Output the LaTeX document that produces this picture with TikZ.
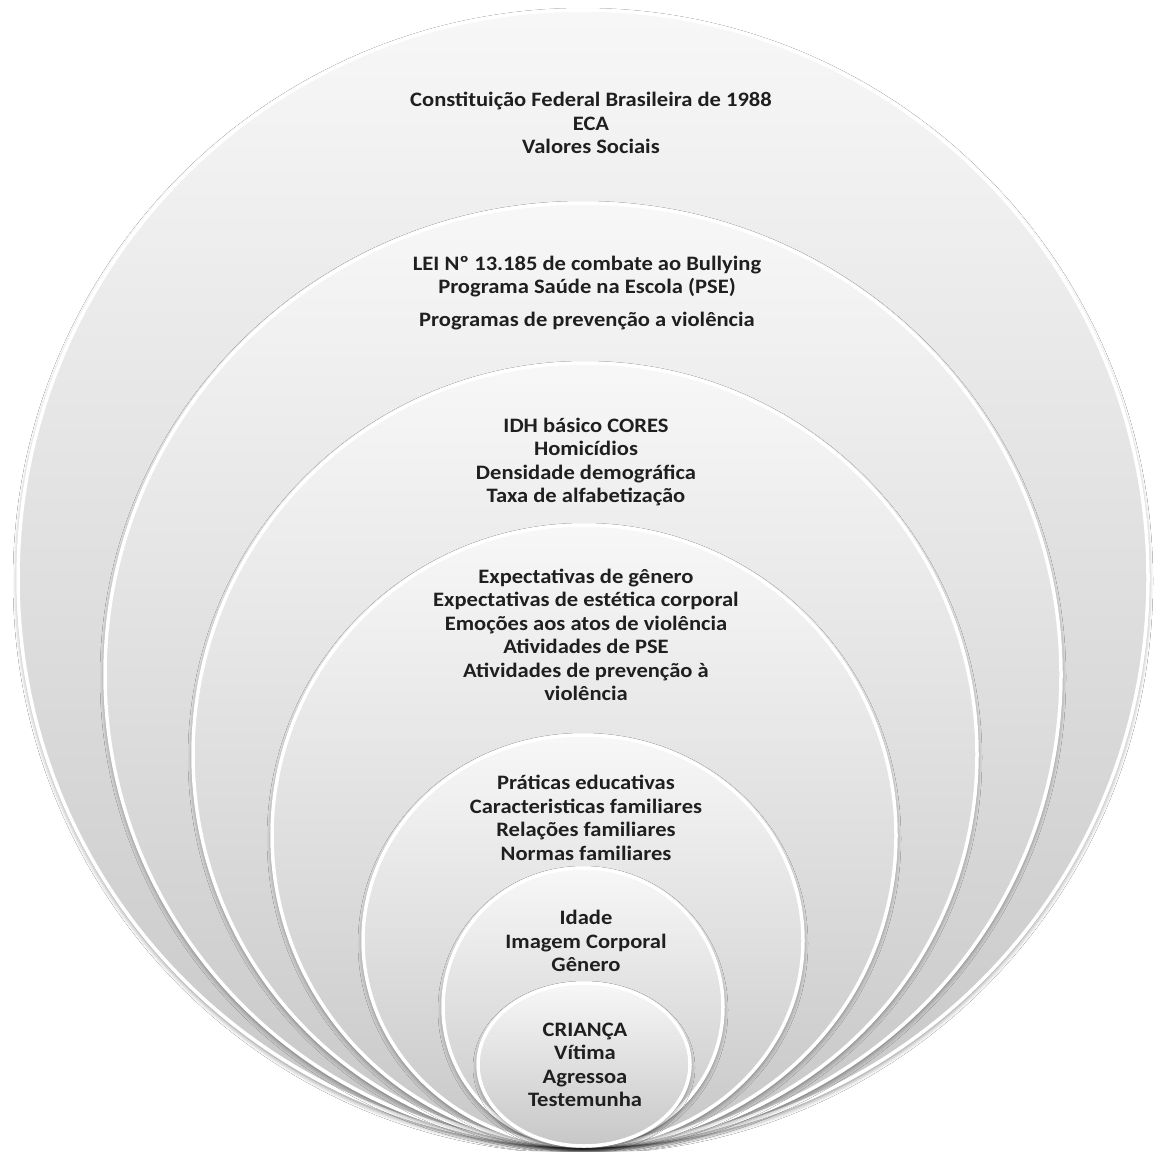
\documentclass[tikz,border=0pt]{standalone}
\usepackage{fontspec}
\setmainfont{Carlito}[FakeStretch=1.1]
\usetikzlibrary{shadows.blur}
\begin{document}
\begin{tikzpicture}[x=1pt,y=-1pt,
  ring/.style={top color=black!3, bottom color=black!22, draw=white, line width=3.5pt,
     blur shadow={shadow xshift=0pt, shadow yshift=-3pt, shadow blur radius=5pt, shadow opacity=50}},
  lbl/.style={align=center, font=\fontsize{20.5}{23.5}\selectfont\bfseries, text=black!88, inner sep=0pt}]
\useasboundingbox[fill=white] (0,0) rectangle (1159,1151);
\path[ring] (583,578) ellipse [x radius=565pt, y radius=568pt];
\path[ring] (583,674.5) ellipse [x radius=478pt, y radius=471.5pt];
\path[ring] (585,754.5) ellipse [x radius=392pt, y radius=391.5pt];
\path[ring] (584,835.5) ellipse [x radius=312pt, y radius=310.5pt];
\path[ring] (583,940.5) ellipse [x radius=220pt, y radius=205.5pt];
\path[ring] (583,1007) ellipse [x radius=140pt, y radius=139pt];
\path[ring] (584,1064.5) ellipse [x radius=106pt, y radius=81.5pt];
\node[lbl] (t1) at (591,123) {Constituição Federal Brasileira de 1988\\ECA\\Valores Sociais};
\node[lbl] (t2) at (587,293) {LEI Nº 13.185 de combate ao Bullying\\Programa Saúde na Escola (PSE)\\[9.5pt]Programas de prevenção a violência};
\node[lbl] (t3) at (586,462) {IDH básico CORES\\Homicídios\\Densidade demográfica\\Taxa de alfabetização};
\node[lbl] (t4) at (586,635) {Expectativas de gênero\\Expectativas de estética corporal\\Emoções aos atos de violência\\Atividades de PSE\\Atividades de prevenção à\\violência};
\node[lbl] (t5) at (586,818) {Práticas educativas\\Caracteristicas familiares\\Relações familiares\\Normas familiares};
\node[lbl] (t6) at (586,941) {Idade\\Imagem Corporal\\Gênero};
\node[lbl] (t7) at (585,1065) {CRIANÇA\\Vítima\\Agressoa\\Testemunha};
\end{tikzpicture}
\end{document}
